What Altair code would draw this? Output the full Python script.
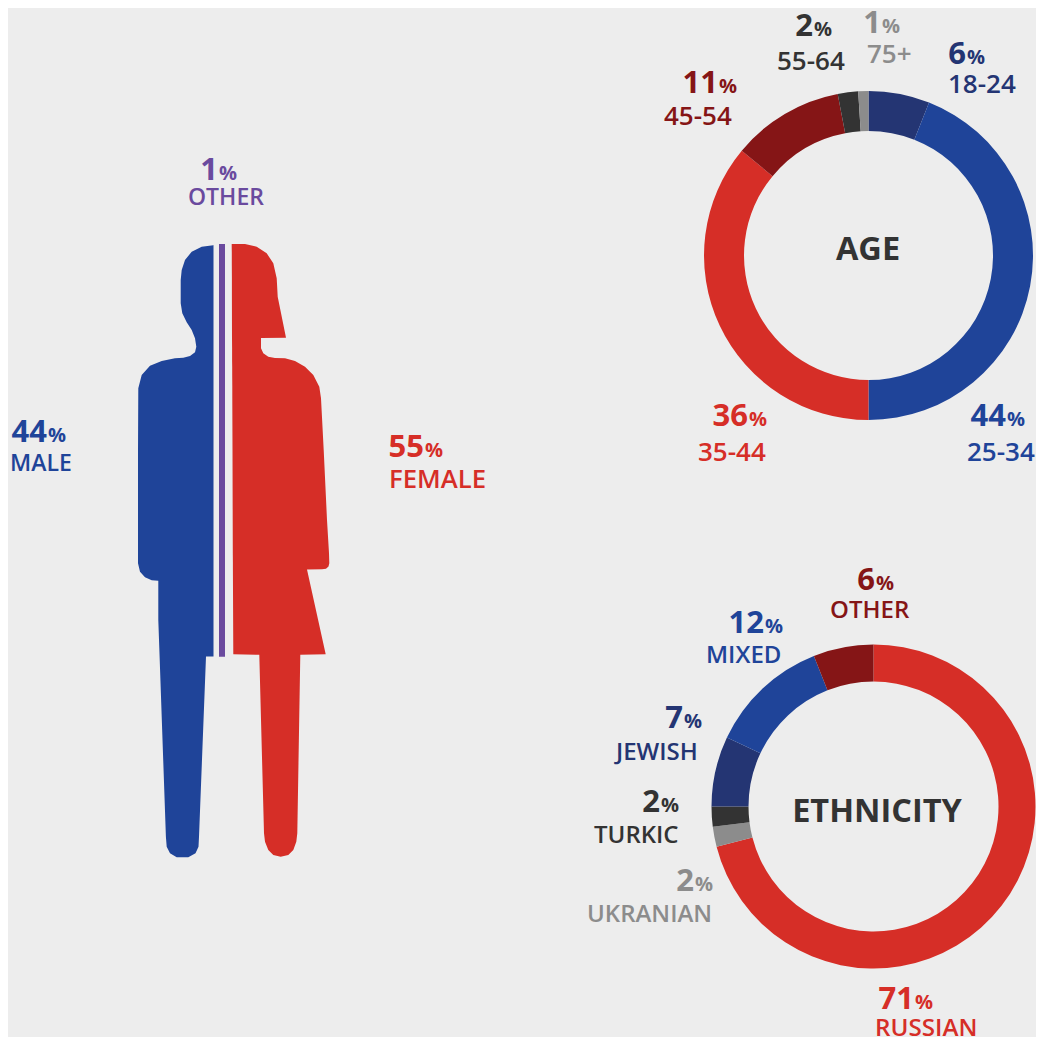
import altair as alt
import pandas as pd

BG = "#ededed"
RED = "#d62e27"
BLUE = "#1f4499"
NAVY = "#243573"
MAROON = "#851516"
DARK = "#333333"
GREY = "#8c8c8c"
PURPLE = "#6a4a9e"
FONT = "Open Sans"

# Donut data
age_groups = ["18-24", "25-34", "35-44", "45-54", "55-64", "75+"]
age_values = [6, 44, 36, 11, 2, 1]
age_colors = [NAVY, BLUE, RED, MAROON, DARK, GREY]
eth_groups = ["RUSSIAN", "UKRANIAN", "TURKIC", "JEWISH", "MIXED", "OTHER"]
eth_values = [71, 2, 2, 7, 12, 6]
eth_colors = [RED, GREY, DARK, NAVY, BLUE, MAROON]

# Silhouette outlines: vertical position and the two horizontal edges
male_y = [244.8, 245.3, 246.7, 251.7, 260, 270, 280, 303.3, 313.3, 322.3, 330, 338.3, 346.7, 352.3,
          356, 357.7, 358.3, 361, 365.7, 375, 388.3, 450, 563.3, 571.7, 577.3, 580.3, 580.7, 620,
          656.4, 656.6, 836.7, 846.7, 853.3, 857.3]
male_left = [213.5, 213.3, 201.7, 191.7, 185, 181.7, 180.7, 180.7, 182.3, 186.7, 191.7, 195, 196.3, 195,
             190, 183.3, 175, 161.7, 150, 141.7, 138.3, 138, 138, 140, 145, 151.7, 158.3, 158.3,
             159.6, 159.6, 165.9, 166.7, 170, 176.7]
male_right = [213.5] * 29 + [206, 199, 198.5, 195.5, 188.3]

female_y = [244, 246.7, 253.3, 263.3, 278.3, 296.7, 337.7, 338.1, 348.3, 353.3, 356.7, 357.9, 358.2, 361, 366.7,
            375, 386.7, 398.3, 450, 520, 553.3, 563.3, 566.5, 568.8, 569.3, 569.4, 654.3, 654.8,
            833.3, 841.7, 850, 855, 856.7]
female_left = [231.7, 231.7, 231.8, 231.8, 231.9, 231.9, 232, 232, 232.1, 232.1, 232.1, 232.1, 232.1, 232.1, 232.2,
               232.2, 232.3, 232.3, 232.5, 232.7, 232.8, 232.9, 232.9, 232.9, 232.9, 232.9, 233.3, 259.3,
               264, 265, 268.3, 273.3, 280.7]
female_right = [245, 256.7, 266.7, 273.3, 276.7, 277.7, 286, 261, 261, 263.3, 268.3, 275, 285, 295, 305,
                313.3, 319.3, 321, 323.7, 327, 329, 329.3, 328.5, 326, 322, 307, 325.7, 300.3,
                297.3, 296.3, 293.3, 288.3, 280.7]

# Text content
num_text = ["6", "44", "36", "11", "2", "1", "71", "2", "2", "7", "12", "6", "1", "44", "55"]
num_split = [966, 1006, 748, 718, 813, 881, 914, 694, 660, 683, 764, 875, 218, 47, 424]
num_base = [64, 426, 426, 93, 36, 33, 1009, 891, 812, 728, 633, 590, 180, 442, 457]
num_color = [NAVY, BLUE, RED, MAROON, DARK, GREY, RED, GREY, DARK, NAVY, BLUE, MAROON, PURPLE, BLUE, RED]

lab_text = ["18-24", "25-34", "35-44", "45-54", "55-64", "75+", "RUSSIAN", "UKRANIAN", "TURKIC", "JEWISH",
            "MIXED", "OTHER", "OTHER", "MALE", "FEMALE"]
lab_left = [948, 967, 698, 664, 777, 867, 875, 587, 594, 616, 706, 830, 188, 10, 389]
lab_base = [93, 461, 461, 125, 70, 63, 1036, 922, 843, 760, 663, 618, 205, 471, 488]
lab_size = [26, 26, 26, 26, 26, 26, 24.2, 24, 24, 24, 24, 24, 23, 23, 25.7]

title_text = ["AGE", "ETHNICITY"]
title_x = [868, 877]
title_y = [260, 822]

X = alt.Scale(domain=[8, 1036], nice=False, zero=False)
Y = alt.Scale(domain=[1037, 8], nice=False, zero=False)
def px(f): return alt.X(f, type="quantitative", scale=X, axis=None)
def py(f): return alt.Y(f, type="quantitative", scale=Y, axis=None)

def body(ys, ls, rs, color):
    return alt.Chart(pd.DataFrame({"y": ys, "a": ls, "b": rs})).mark_area(
        orient="horizontal", color=color, interpolate="linear"
    ).encode(x=px("a"), x2="b:Q", y=py("y"))

def donut(vals, cols, cx, cy, ro, ri):
    d = pd.DataFrame({"v": vals, "c": cols, "i": range(len(vals)), "cx": [cx] * len(vals), "cy": [cy] * len(vals)})
    return alt.Chart(d).mark_arc(outerRadius=ro, innerRadius=ri).encode(
        theta=alt.Theta("v:Q", stack=True, scale=alt.Scale(domain=[0, 100], range=[0, 6.28318530718])),
        order=alt.Order("i:Q"),
        color=alt.Color("c:N", scale=None),
        x=px("cx"), y=py("cy"),
    )

nums = pd.DataFrame({"t": num_text, "x": num_split, "y": num_base, "c": num_color, "p": ["%"] * len(num_text)})
labs = pd.DataFrame({"t": lab_text, "x": lab_left, "y": lab_base, "c": num_color, "s": lab_size})
tits = pd.DataFrame({"t": title_text, "x": title_x, "y": title_y})

num_layer = alt.Chart(nums).mark_text(font=FONT, fontWeight="bold", fontSize=31, align="right", baseline="alphabetic").encode(
    x=px("x"), y=py("y"), text="t:N", color=alt.Color("c:N", scale=None))
pct_layer = alt.Chart(nums).mark_text(font=FONT, fontWeight="bold", fontSize=20, align="left", baseline="alphabetic", dx=1).encode(
    x=px("x"), y=py("y"), text="p:N", color=alt.Color("c:N", scale=None))
lab_layer = alt.Chart(labs).mark_text(font=FONT, fontWeight=600, align="left", baseline="alphabetic").encode(
    x=px("x"), y=py("y"), text="t:N", color=alt.Color("c:N", scale=None),
    size=alt.Size("s:Q", scale=None))
tit_layer = alt.Chart(tits).mark_text(font=FONT, fontWeight="bold", fontSize=32.5, align="center", baseline="alphabetic", color=DARK).encode(
    x=px("x"), y=py("y"), text="t:N")

purple = alt.Chart(pd.DataFrame({"a": [219], "b": [225], "t": [244], "u": [656.7]})).mark_rect(color=PURPLE).encode(
    x=px("a"), x2="b:Q", y=py("t"), y2="u:Q")

chart = alt.layer(
    donut(age_values, age_colors, 868.5, 255.5, 164.5, 124.5),
    donut(eth_values, eth_colors, 873.5, 806.5, 162, 125),
    body(male_y, male_left, male_right, BLUE),
    body(female_y, female_left, female_right, RED),
    purple, num_layer, pct_layer, lab_layer, tit_layer,
).resolve_scale(theta="independent").properties(
    width=1028, height=1029, background=BG, padding=0,
    autosize=alt.AutoSizeParams(type="none"),
).configure_view(stroke=None)

chart.save("out.html", embed_options={"renderer": "svg", "actions": False})
